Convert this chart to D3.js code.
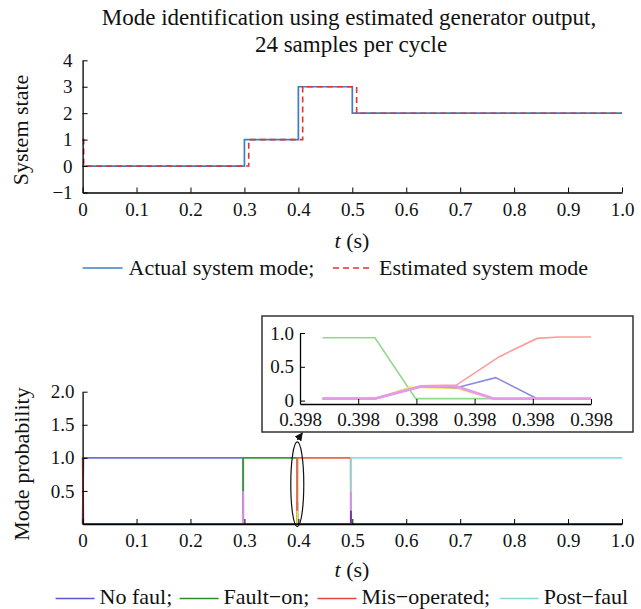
<!DOCTYPE html>
<html>
<head>
<meta charset="utf-8">
<script src="https://cdn.jsdelivr.net/npm/d3@7/dist/d3.min.js"></script>
<style>
  html, body { margin: 0; padding: 0; background: #fff; }
  svg { display: block; }
</style>
</head>
<body>
<div id="chart"></div>
<script>
// ---- Data ----
const TITLE_LINES = ['Mode identification using estimated generator output,', '24 samples per cycle'];

// top panel: system state (step)
const tActual = [0, 0.3, 0.4, 0.5, 1.0];
const sActual = [0, 1, 3, 2, 2];
const tEstimated = [0, 0.002, 0.308, 0.408, 0.508, 1.0];
const sEstimated = [1, 0, 1, 3, 2, 2];
const stateTicks = [-1, 0, 1, 2, 3, 4];
const timeTicks = [0, 0.1, 0.2, 0.3, 0.4, 0.5, 0.6, 0.7, 0.8, 0.9, 1.0];

// bottom panel: mode probabilities
const tNoFault = [0, 0.0015, 0.2975, 0.2978, 0.3980, 0.3981, 0.3983, 1.0];
const pNoFault = [0, 1, 1, 0, 0, 0.34, 0, 0];
const tFaultOn = [0, 0.2976, 0.2978, 0.3977, 0.3980, 1.0];
const pFaultOn = [0, 0, 1, 1, 0, 0];
const tMisOp = [0, 0.0015, 0.3979, 0.3983, 0.4970, 0.4973, 1.0];
const pMisOp = [1, 0, 0, 1, 1, 0, 0];
const tPost = [0, 0.4976, 0.4979, 1.0];
const pPost = [0, 0, 1, 1];
const tMode5 = [0, 0.2975, 0.2976, 0.2977, 0.3980, 0.3981, 0.3982, 1.0];
const pMode5 = [0, 0, 0.15, 0, 0, 0.2, 0, 0];
const tMode6 = [0, 0.2975, 0.2976, 0.2977, 0.4972, 0.4973, 0.4975, 1.0];
const pMode6 = [0, 0, 0.5, 0, 0, 0.48, 0, 0];
const tMode7 = [0, 0.4974, 0.4975, 0.4977, 1.0];
const pMode7 = [0, 0, 0.2, 0, 0];
const probTicks = [0.5, 1.0, 1.5, 2.0];

// inset: zoom on the transition near t = 0.398 s
const insetTicks = [0.39800, 0.39808, 0.39816, 0.39824, 0.39832, 0.39840];
const insetYTicks = [0, 0.5, 1.0];
const itGreen = [0.398031, 0.398103, 0.398159, 0.398400];
const ipGreen = [0.93, 0.93, 0.03, 0.03];
const itYellow = [0.398031, 0.398105, 0.398151, 0.398215, 0.398266, 0.398400];
const ipYellow = [0.03, 0.03, 0.20, 0.18, 0.03, 0.03];
const itRed = [0.398031, 0.398103, 0.398167, 0.398215, 0.398274, 0.398326, 0.398356, 0.398400];
const ipRed = [0.03, 0.03, 0.22, 0.23, 0.65, 0.92, 0.94, 0.94];
const itBlue = [0.398031, 0.398103, 0.398167, 0.398215, 0.398269, 0.398326, 0.398354];
const ipBlue = [0.03, 0.03, 0.21, 0.19, 0.34, 0.03, 0.03];
const itMagenta = [0.398031, 0.398103, 0.398167, 0.398215, 0.398266, 0.398400];
const ipMagenta = [0.03, 0.03, 0.21, 0.21, 0.03, 0.03];

const zip = (ts, vs) => ts.map((t, i) => ({ t, v: vs[i] }));

// ---- Layout ----
const W = 641, H = 609;
const FONT = '"Liberation Serif", "Times New Roman", Times, serif';
const TICK_FS = 19, LABEL_FS = 22;

const svg = d3.select('#chart').append('svg')
  .attr('width', W).attr('height', H)
  .attr('viewBox', `0 0 ${W} ${H}`)
  .style('font-family', FONT);
svg.append('rect').attr('width', W).attr('height', H).attr('fill', '#fff');

const styleAxis = (g, fs) => {
  g.attr('font-family', FONT).attr('font-size', fs);
  g.select('.domain').attr('stroke', '#000').attr('stroke-width', 1.3);
  g.selectAll('.tick line').attr('stroke', '#000').attr('stroke-width', 1);
  g.selectAll('.tick text').attr('fill', '#111');
};

// ---- Title ----
svg.append('text').attr('x', 349).attr('y', 25)
  .attr('text-anchor', 'middle').attr('font-size', 23).attr('fill', '#111')
  .text(TITLE_LINES[0]);
svg.append('text').attr('x', 351).attr('y', 52)
  .attr('text-anchor', 'middle').attr('font-size', 23).attr('fill', '#111')
  .text(TITLE_LINES[1]);

// ---- Top panel ----
const x1 = d3.scaleLinear().domain([0, 1]).range([82.6, 622]);
const y1 = d3.scaleLinear().domain([-1, 4]).range([192.5, 60.3]);

const gTop = svg.append('g');
const stepLine = d3.line().x(d => x1(d.t)).y(d => y1(d.v)).curve(d3.curveStepAfter);

gTop.append('path').datum(zip(tActual, sActual))
  .attr('fill', 'none').attr('stroke', '#3d7fc6').attr('stroke-width', 1.7)
  .attr('d', stepLine);
gTop.append('path').datum(zip(tEstimated, sEstimated))
  .attr('fill', 'none').attr('stroke', '#e8322c').attr('stroke-width', 1.6)
  .attr('stroke-dasharray', '6,4')
  .attr('d', stepLine);

gTop.append('g').attr('transform', `translate(0,${y1(-1)})`)
  .call(d3.axisBottom(x1).tickValues(timeTicks)
    .tickFormat(d => d === 0 ? '0' : d3.format('.1f')(d))
    .tickSize(-5).tickSizeOuter(0).tickPadding(10))
  .call(g => styleAxis(g, TICK_FS));
gTop.append('g').attr('transform', `translate(${x1(0)},0)`)
  .call(d3.axisLeft(y1).tickValues(stateTicks).tickFormat(d3.format('d'))
    .tickSize(-5).tickSizeOuter(0).tickPadding(10))
  .call(g => styleAxis(g, TICK_FS));

gTop.append('text')
  .attr('transform', `translate(28,130) rotate(-90)`)
  .attr('text-anchor', 'middle').attr('font-size', LABEL_FS).attr('fill', '#111')
  .text('System state');

const xl1 = gTop.append('text').attr('x', 352).attr('y', 248)
  .attr('text-anchor', 'middle').attr('font-size', LABEL_FS).attr('fill', '#111');
xl1.append('tspan').attr('font-style', 'italic').text('t');
xl1.append('tspan').text(' (s)');

// top legend
const topLegend = [
  { x: 82.6, label: 'Actual system mode;', color: '#3d7fc6', dash: null },
  { x: 333, label: 'Estimated system mode', color: '#e8322c', dash: '6,4' }
];
topLegend.forEach(d => {
  svg.append('line').attr('x1', d.x).attr('x2', d.x + 40).attr('y1', 268).attr('y2', 268)
    .attr('stroke', d.color).attr('stroke-width', 1.6)
    .attr('stroke-dasharray', d.dash);
  svg.append('text').attr('x', d.x + 46).attr('y', 275)
    .attr('font-size', LABEL_FS).attr('fill', '#111').text(d.label);
});

// ---- Bottom panel ----
const x2 = d3.scaleLinear().domain([0, 1]).range([82.6, 622]);
const y2 = d3.scaleLinear().domain([0, 2]).range([524, 391.7]);
const probLine = d3.line().x(d => x2(d.t)).y(d => y2(d.v));

const gBottom = svg.append('g');
const probSeries = [
  { t: tNoFault, p: pNoFault, color: '#6f6fd8' },
  { t: tFaultOn, p: pFaultOn, color: '#3a9a3a' },
  { t: tMisOp, p: pMisOp, color: '#f26443' },
  { t: tPost, p: pPost, color: '#93dede' },
  { t: tMode5, p: pMode5, color: '#e6e05a' },
  { t: tMode6, p: pMode6, color: '#d98ae6' },
  { t: tMode7, p: pMode7, color: '#6a3a9a' }
];
probSeries.forEach(s => {
  gBottom.append('path').datum(zip(s.t, s.p))
    .attr('fill', 'none').attr('stroke', s.color).attr('stroke-width', 1.8)
    .attr('d', probLine);
});

gBottom.append('g').attr('transform', `translate(0,${y2(0)})`)
  .call(d3.axisBottom(x2).tickValues(timeTicks)
    .tickFormat(d => d === 0 ? '0' : d3.format('.1f')(d))
    .tickSize(-5).tickSizeOuter(0).tickPadding(10))
  .call(g => styleAxis(g, TICK_FS));
gBottom.append('g').attr('transform', `translate(${x2(0)},0)`)
  .call(d3.axisLeft(y2).tickValues(probTicks).tickFormat(d3.format('.1f'))
    .tickSize(-5).tickSizeOuter(0).tickPadding(8))
  .call(g => styleAxis(g, TICK_FS));

gBottom.append('text')
  .attr('transform', `translate(29,464) rotate(-90)`)
  .attr('text-anchor', 'middle').attr('font-size', LABEL_FS).attr('fill', '#111')
  .text('Mode probability');

const xl2 = gBottom.append('text').attr('x', 352).attr('y', 577)
  .attr('text-anchor', 'middle').attr('font-size', LABEL_FS).attr('fill', '#111');
xl2.append('tspan').attr('font-style', 'italic').text('t');
xl2.append('tspan').text(' (s)');

// bottom legend
const bottomLegend = [
  { x: 55.6, label: 'No faul;', color: '#5a5acc' },
  { x: 179.6, label: 'Fault\u2212on;', color: '#2e8b2e' },
  { x: 317.5, label: 'Mis\u2212operated;', color: '#e8463a' },
  { x: 499.7, label: 'Post\u2212faul', color: '#88d8d8' }
];
bottomLegend.forEach(d => {
  svg.append('line').attr('x1', d.x).attr('x2', d.x + 39).attr('y1', 598.5).attr('y2', 598.5)
    .attr('stroke', d.color).attr('stroke-width', 1.6);
  svg.append('text').attr('x', d.x + 44).attr('y', 603.5)
    .attr('font-size', LABEL_FS).attr('fill', '#111').text(d.label);
});

// ellipse + arrow marking the zoomed region
const ellCx = x2(0.398), ellCy = y2(0.6), ellRy = y2(0) - y2(0.64);
gBottom.append('ellipse')
  .attr('cx', ellCx).attr('cy', ellCy).attr('rx', 6.5).attr('ry', ellRy)
  .attr('fill', 'none').attr('stroke', '#111').attr('stroke-width', 1.2);

svg.append('defs').append('marker')
  .attr('id', 'arrowhead').attr('viewBox', '0 0 10 10')
  .attr('refX', 9).attr('refY', 5).attr('markerWidth', 7).attr('markerHeight', 7)
  .attr('orient', 'auto-start-reverse')
  .append('path').attr('d', 'M0,0 L10,5 L0,10 z').attr('fill', '#111');

// ---- Inset ----
const box = { x: 262, y: 316, w: 371, h: 116 };
svg.append('rect').attr('x', box.x).attr('y', box.y).attr('width', box.w).attr('height', box.h)
  .attr('fill', '#fff').attr('stroke', '#333').attr('stroke-width', 1.5);

svg.append('line')
  .attr('x1', ellCx).attr('y1', ellCy - ellRy - 2)
  .attr('x2', ellCx + 5).attr('y2', box.y + box.h + 1)
  .attr('stroke', '#111').attr('stroke-width', 1.2)
  .attr('marker-end', 'url(#arrowhead)');

const xi = d3.scaleLinear().domain([insetTicks[0], insetTicks[insetTicks.length - 1]]).range([300, 591]);
const yi = d3.scaleLinear().domain([-0.05, 1]).range([404, 333]);
const insetLine = d3.line().x(d => xi(d.t)).y(d => yi(d.v));
const gInset = svg.append('g');

const insetSeries = [
  { t: itGreen, p: ipGreen, color: '#8fd88f' },
  { t: itYellow, p: ipYellow, color: '#ecea6a' },
  { t: itRed, p: ipRed, color: '#ff9a9a' },
  { t: itBlue, p: ipBlue, color: '#8a8ade' },
  { t: itMagenta, p: ipMagenta, color: '#e49ae8' }
];
insetSeries.forEach((s, i) => {
  gInset.append('path').datum(zip(s.t, s.p))
    .attr('fill', 'none').attr('stroke', s.color)
    .attr('stroke-width', i === insetSeries.length - 1 ? 2.6 : 1.6)
    .attr('d', insetLine);
});

gInset.append('g').attr('transform', `translate(0,${yi(-0.05)})`)
  .call(d3.axisBottom(xi).tickValues(insetTicks).tickFormat(d3.format('.3f'))
    .tickSize(-5).tickSizeOuter(0).tickPadding(9))
  .call(g => styleAxis(g, TICK_FS));
gInset.append('g').attr('transform', `translate(${xi.range()[0]},0)`)
  .call(d3.axisLeft(yi).tickValues(insetYTicks).tickFormat(d => d === 0 ? '0' : d3.format('.1f')(d))
    .tickSize(-5).tickSizeOuter(0).tickPadding(6))
  .call(g => styleAxis(g, TICK_FS));
</script>
</body>
</html>
